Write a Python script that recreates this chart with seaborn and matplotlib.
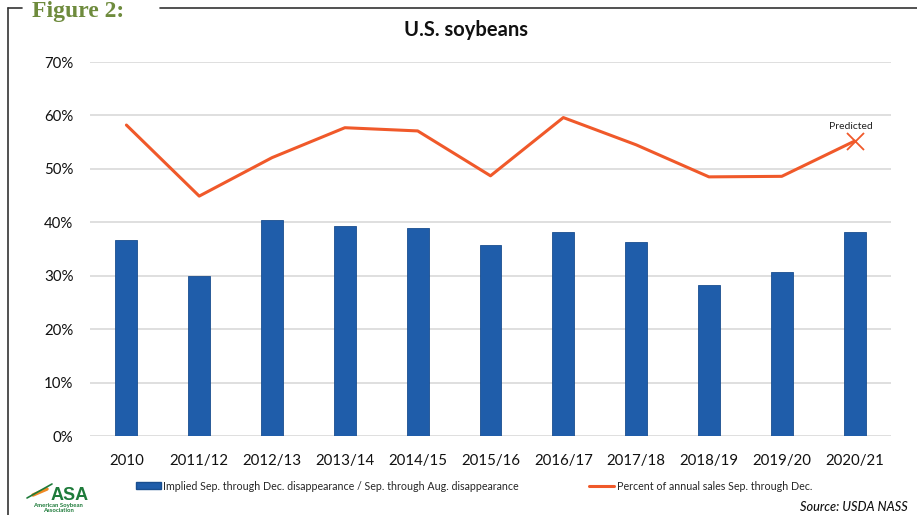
import numpy as np
import pandas as pd
import matplotlib
matplotlib.use("Agg")
import matplotlib.pyplot as plt
from matplotlib.lines import Line2D
from matplotlib.ticker import PercentFormatter
import seaborn as sns

categories = ["2010", "2011/12", "2012/13", "2013/14", "2014/15", "2015/16",
              "2016/17", "2017/18", "2018/19", "2019/20", "2020/21"]
disappearance = [0.367, 0.300, 0.404, 0.393, 0.389, 0.358, 0.381, 0.363, 0.283, 0.307, 0.381]
sales_pct = [0.582, 0.449, 0.521, 0.577, 0.571, 0.487, 0.596, 0.545, 0.485, 0.486, 0.552]
bar_label = "Implied Sep. through Dec. disappearance / Sep. through Aug. disappearance"
line_label = "Percent of annual sales Sep. through Dec."

sns.set_style("white")
plt.rcParams["font.family"] = ["Lato", "DejaVu Sans"]

BLUE = "#1F5DAA"
ORANGE = "#F0592A"

fig = plt.figure(figsize=(9.17, 5.15), dpi=100)
ax = fig.add_axes([90 / 917, 1 - 436 / 515, (891 - 90) / 917, (436 - 62) / 515])

df = pd.DataFrame({"cat": categories, "dis": disappearance, "sales": sales_pct})
df["pos"] = np.arange(len(df))

sns.barplot(data=df, x="cat", y="dis", color=BLUE, width=0.30, ax=ax,
            edgecolor="#194E8F", linewidth=0.6, saturation=1, zorder=3)
sns.lineplot(data=df, x="pos", y="sales", color=ORANGE, linewidth=2.2, ax=ax, zorder=4)
last = df.iloc[[-1]]
sns.scatterplot(data=last, x="pos", y="sales", marker="x", s=150, color=ORANGE,
                linewidth=1.3, ax=ax, zorder=5)
ax.annotate("Predicted", (last["pos"].iloc[0], last["sales"].iloc[0]),
            xytext=(-3, 7), textcoords="offset points", ha="center", va="bottom",
            fontsize=7.5, color="#222222")

ax.set_ylim(0, 0.7)
ax.set_xlim(-0.5, len(categories) - 0.5)
ax.set_yticks(np.arange(0, 0.71, 0.1))
ax.yaxis.set_major_formatter(PercentFormatter(1.0, decimals=0))
ax.grid(axis="y", color="#D9D9D9", linewidth=1.2, zorder=0)
ax.grid(axis="x", visible=False)
ax.set_axisbelow(True)
for s in ax.spines.values():
    s.set_visible(False)
ax.tick_params(axis="both", length=0, labelsize=10.8, colors="#111111")
ax.tick_params(axis="y", pad=12)
ax.tick_params(axis="x", pad=13)
ax.set_xlabel("")
ax.set_ylabel("")

fig.text(466 / 917, 1 - 30 / 515, "U.S. soybeans", ha="center", va="center",
         fontsize=14.5, fontweight="bold", color="#111111")

handles = [plt.Rectangle((0, 0), 1, 1, facecolor=BLUE, edgecolor="#194E8F"),
           Line2D([0], [0], color=ORANGE, linewidth=2.2)]
fig.legend(handles, [bar_label, line_label], loc="center left",
           bbox_to_anchor=(136 / 917, 1 - 486 / 515), ncol=2, frameon=False,
           fontsize=7.7, handlelength=2.3, handleheight=0.55, handletextpad=0.25,
           columnspacing=6.6, borderpad=0, borderaxespad=0)

fig.text(908 / 917, 1 - 507 / 515, "Source: USDA NASS", ha="right", va="center",
         fontsize=9.2, fontstyle="italic", fontweight="medium", color="#111111")

# frame with figure label
fig.add_artist(Line2D([8 / 917, 8 / 917], [0, 1 - 8 / 515], color="#333333",
                      linewidth=1.2, transform=fig.transFigure))
fig.add_artist(Line2D([8 / 917, 22 / 917], [1 - 8 / 515, 1 - 8 / 515], color="#333333",
                      linewidth=1.2, transform=fig.transFigure))
fig.add_artist(Line2D([160 / 917, 1], [1 - 8 / 515, 1 - 8 / 515], color="#333333",
                      linewidth=1.2, transform=fig.transFigure))
fig.text(32 / 917, 1 - 17 / 515, "Figure 2:", ha="left", va="baseline",
         fontsize=17, fontweight="bold", color="#6E8B3D",
         family=["Liberation Serif", "DejaVu Serif"])

# logo
fig.add_artist(Line2D([33 / 917, 47 / 917], [1 - 495 / 515, 1 - 489 / 515], color="#F08A24",
                      linewidth=2.5, solid_capstyle="round", transform=fig.transFigure))
fig.add_artist(Line2D([27 / 917, 52 / 917], [1 - 498 / 515, 1 - 484 / 515], color="#1E7B3A",
                      linewidth=1.2, transform=fig.transFigure))
fig.text(70 / 917, 1 - 500 / 515, "ASA", ha="center", va="baseline", fontsize=13,
         fontweight="bold", color="#1E7B3A",
         family=["Liberation Sans Narrow", "Liberation Sans", "DejaVu Sans"])
fig.text(58 / 917, 1 - 503 / 515, "American Soybean\nAssociation", ha="center", va="top",
         fontsize=4.3, fontweight="bold", color="#1E7B3A", linespacing=0.95)

fig.savefig("out.png", dpi=100)
